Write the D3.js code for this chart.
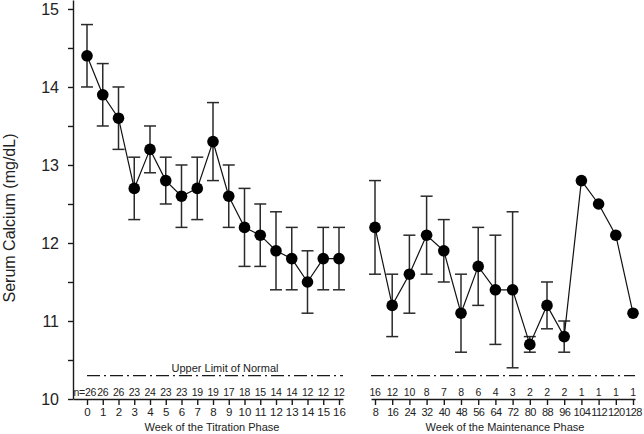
<!DOCTYPE html>
<html><head><meta charset="utf-8">
<script src="https://cdn.jsdelivr.net/npm/d3@7"></script>
<style>body{margin:0;background:#fff}svg{display:block;font-family:"Liberation Sans",Arial,sans-serif}</style>
</head><body><svg id="c" width="644" height="434"></svg>
<script>
const titWeeks = [0,1,2,3,4,5,6,7,8,9,10,11,12,13,14,15,16];
const titMean  = [14.4,13.9,13.6,12.7,13.2,12.8,12.6,12.7,13.3,12.6,12.2,12.1,11.9,11.8,11.5,11.8,11.8];
const titUpper = [14.8,14.3,14.0,13.1,13.5,13.1,13.0,13.1,13.8,13.0,12.7,12.5,12.4,12.2,11.9,12.2,12.2];
const titLower = [14.0,13.5,13.2,12.3,12.9,12.5,12.2,12.3,12.8,12.2,11.7,11.7,11.4,11.4,11.1,11.4,11.4];
const titN     = ["n=26","26","26","23","24","23","23","19","19","17","18","15","14","14","12","12","12"];

const mntWeeks = [8,16,24,32,40,48,56,64,72,80,88,96,104,112,120,128];
const mntMean  = [12.2,11.2,11.6,12.1,11.9,11.1,11.7,11.4,11.4,10.7,11.2,10.8,12.8,12.5,12.1,11.1];
const mntUpper = [12.8,11.6,12.1,12.6,12.3,11.6,12.2,12.1,12.4,10.8,11.5,11.0,null,null,null,null];
const mntLower = [11.6,10.8,11.1,11.6,11.5,10.6,11.2,10.7,10.4,10.6,10.9,10.6,null,null,null,null];
const mntN     = ["16","12","10","8","7","8","6","4","3","2","2","2","1","1","1","1"];

const yTicks = [10,11,12,13,14,15];
const yMinor = [10.5,11.5,12.5,13.5,14.5];
const upperLimit = 10.3;

const svg = d3.select("#c");
const col = "#1a1a1a";
const y = d3.scaleLinear().domain([10, 15.115]).range([399, 0]);
const xT = d3.scaleLinear().domain([-0.889, 16.254]).range([73, 343]);
const xM = d3.scaleLinear().domain([6.14, 128.93]).range([371, 635]);

// Y axis
const ya = svg.append("g").attr("transform","translate(73,0)")
  .call(d3.axisLeft(y).tickValues(yTicks).tickSize(5).tickSizeOuter(0).tickPadding(9).tickFormat(d3.format("d")));
ya.selectAll("text").attr("font-size",16).attr("fill","#222");
svg.append("g").attr("transform","translate(73,0)")
  .call(d3.axisLeft(y).tickValues(yMinor).tickSize(5).tickFormat(""))
  .select(".domain").remove();
svg.append("text").attr("transform","translate(15,218) rotate(-90)")
  .attr("text-anchor","middle").attr("font-size",16).attr("fill","#222").text("Serum Calcium (mg/dL)");

function axisX(x, ticks, title, cx, fs, ls){
  const g = svg.append("g").attr("transform","translate(0,399)")
    .call(d3.axisBottom(x).tickValues(ticks).tickSize(6).tickSizeOuter(0).tickPadding(3).tickFormat(d3.format("d")));
  g.selectAll("text").attr("font-size",fs).attr("letter-spacing",ls).attr("fill","#222");
  svg.append("text").attr("x",cx).attr("y",431).attr("text-anchor","middle")
    .attr("font-size",11).attr("fill","#222").text(title);
}
axisX(xT, titWeeks, "Week of the Titration Phase", 212, 11.5, 0);
axisX(xM, mntWeeks, "Week of the Maintenance Phase", 505, 11, -0.6);
svg.selectAll(".domain, .tick line").attr("stroke",col).attr("stroke-width",1.4);

function nLabels(x, weeks, ns){
  svg.append("g").selectAll("text").data(weeks).join("text")
    .attr("x",(d,i)=> ns[i].startsWith("n=") ? x(d)+9 : x(d)).attr("y",396)
    .attr("text-anchor",(d,i)=> ns[i].startsWith("n=") ? "end" : "middle")
    .attr("font-size",10.5).attr("letter-spacing",-0.3).attr("fill","#222")
    .text((d,i)=>ns[i]);
}
nLabels(xT, titWeeks, titN);
nLabels(xM, mntWeeks, mntN);

// Upper limit lines
[[87,343],[371,635]].forEach(([a,b])=>{
  svg.append("line").attr("x1",a).attr("x2",b).attr("y1",y(upperLimit)).attr("y2",y(upperLimit))
    .attr("stroke",col).attr("stroke-width",1.3).attr("stroke-dasharray","13,4,2,4");
});
svg.append("text").attr("x",225).attr("y",372).attr("text-anchor","middle")
  .attr("font-size",11).attr("fill","#222").text("Upper Limit of Normal");

function series(x, weeks, mean, up, lo){
  const g = svg.append("g");
  weeks.forEach((w,i)=>{
    if(up[i]==null) return;
    const cx = x(w);
    g.append("line").attr("x1",cx).attr("x2",cx).attr("y1",y(up[i])).attr("y2",y(lo[i]));
    g.append("line").attr("x1",cx-6).attr("x2",cx+6).attr("y1",y(up[i])).attr("y2",y(up[i]));
    g.append("line").attr("x1",cx-6).attr("x2",cx+6).attr("y1",y(lo[i])).attr("y2",y(lo[i]));
  });
  g.selectAll("line").attr("stroke","#2a2a2a").attr("stroke-width",1.5);
  svg.append("path").datum(weeks.map((w,i)=>[x(w),y(mean[i])]))
    .attr("d",d3.line()).attr("fill","none").attr("stroke","#111").attr("stroke-width",1.2);
  svg.append("g").selectAll("circle").data(weeks).join("circle")
    .attr("cx",d=>x(d)).attr("cy",(d,i)=>y(mean[i])).attr("r",5.8).attr("fill","#000");
}
series(xT, titWeeks, titMean, titUpper, titLower);
series(xM, mntWeeks, mntMean, mntUpper, mntLower);
</script></body></html>
